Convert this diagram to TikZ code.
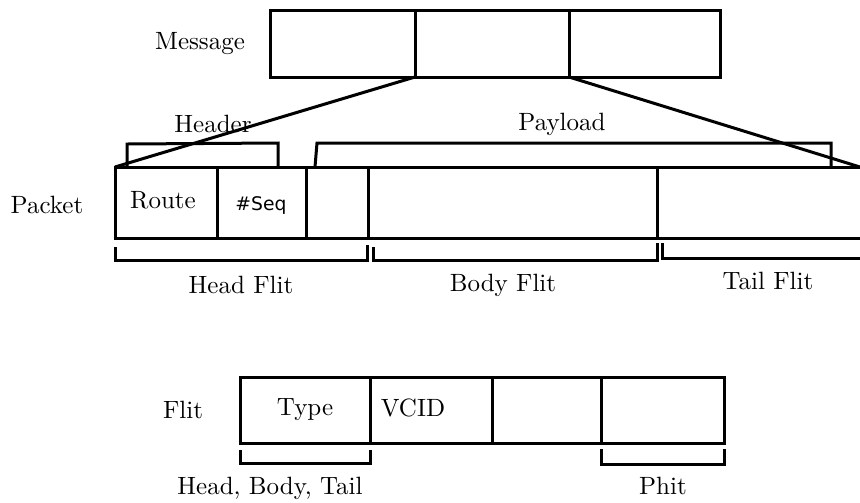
\documentclass[tikz,border=0pt]{standalone}
\usepackage{fontspec}
\newfontfamily\seqfont{DejaVu Sans}
\usetikzlibrary{positioning}

\begin{document}
\begin{tikzpicture}[
  x=0.4pt,y=-0.4pt,
  font=\normalsize,
  field/.style={line width=1.2pt},
  brk/.style={line width=1.2pt},
  lbl/.style={inner sep=1pt}]
\useasboundingbox (0,0) rectangle (860,502);

% --- message: three equal parts ---
\def\MT{10}  \def\MB{77}
\draw[field] (270,\MT) rectangle (720,\MB);
\draw[field] (415,\MT) -- (415,\MB) coordinate (m1);
\draw[field] (569,\MT) -- (569,\MB) coordinate (m2);
\node[lbl] (msg) at (200,44) {Message};

% --- packet: header fields, then flits (runs off the right edge) ---
\def\PT{167} \def\PB{238}
\coordinate (p0) at (115,\PT);
\coordinate (p1) at (860,\PT);
\draw[field] (p1) -- (p0) -- (115,\PB) -- (860,\PB);
\foreach \x in {217,306,368,657}
  \draw[field] (\x,\PT) -- (\x,\PB);
\node[lbl] (pkt)   at (47,205)  {Packet};
\node[lbl] (route) at (163,200) {Route};
\node[lbl] (seq)   at (261,205) {\seqfont\fontsize{7.5}{9}\selectfont\#Seq};

% message is split into the packet
\draw[field] (m1) -- (p0);
\draw[field] (m2) -- (p1);

% --- header / payload brackets above the packet ---
\draw[brk] (127,\PT) -- (127,144) -- (278,143) -- (278,\PT);
\draw[brk] (315,\PT) -- (317,143) -- (831,143) -- (831,\PT);
\node[lbl] (hdr) at (213,124) {Header};
\node[lbl] (pay) at (562,124) {Payload};

% --- flit brackets below the packet ---
\draw[brk] (115,247) -- (115,260) -- (367,260) -- (367,245);
\draw[brk] (373,247) -- (373,260) -- (657,260) -- (657,243);
\draw[brk] (662,243) -- (662,258) -- (860,258);
\node[lbl] (hf) at (241,285) {Head Flit};
\node[lbl] (bf) at (503,285) {Body Flit};
\node[lbl] (tf) at (768,281) {Tail Flit};

% --- flit: four phits ---
\def\FT{377} \def\FB{443}
\draw[field] (240,\FT) rectangle (724,\FB);
\foreach \x in {370,492,601}
  \draw[field] (\x,\FT) -- (\x,\FB);
\node[lbl] (flit) at (183,410) {Flit};
\node[lbl] (type) at (305,410) {Type};
\node[lbl] (vcid) at (413,408) {VCID};

% --- brackets below the flit ---
\draw[brk] (240,450) -- (240,463) -- (370,463) -- (370,450);
\draw[brk] (601,449) -- (601,464) -- (724,464) -- (724,449);
\node[lbl] (hbt)  at (270,488) {Head, Body, Tail};
\node[lbl] (phit) at (663,486) {Phit};

\end{tikzpicture}
\end{document}
